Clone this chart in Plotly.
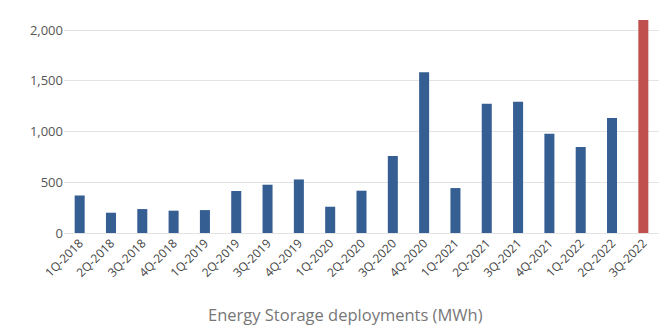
import plotly.graph_objects as go

quarters = ["1Q-2018", "2Q-2018", "3Q-2018", "4Q-2018", "1Q-2019", "2Q-2019", "3Q-2019",
            "4Q-2019", "1Q-2020", "2Q-2020", "3Q-2020", "4Q-2020", "1Q-2021", "2Q-2021",
            "3Q-2021", "4Q-2021", "1Q-2022", "2Q-2022", "3Q-2022"]
mwh = [370, 200, 236, 220, 226, 414, 476, 528, 259, 417, 759, 1586, 443, 1274, 1294, 978, 847, 1133, 2101]
y_ticks = [0, 500, 1000, 1500, 2000]
y_tick_text = ["0", "500", "1,000", "1,500", "2,000"]
title_text = "Energy Storage deployments (MWh)"

blue = "#355E93"
red = "#C0504D"
colors = [blue] * (len(quarters) - 1) + [red]

fig = go.Figure(go.Bar(x=quarters, y=mwh, marker=dict(color=colors, line=dict(width=0)), width=0.32))

font = "'Open Sans', sans-serif"
L, R, T, B = 64, 10, 20, 94
W, H = 669, 327
fig.update_layout(
    width=W, height=H,
    margin=dict(l=L, r=R, t=T, b=B),
    plot_bgcolor="white", paper_bgcolor="white",
    showlegend=False,
    font=dict(family=font, color="#555555"),
    xaxis=dict(tickangle=-45, tickfont=dict(size=12, color="#444444"), showgrid=False,
               showline=False, ticks="", range=[-0.5, len(quarters) - 0.5]),
    yaxis=dict(range=[0, 2100], tickvals=y_ticks, ticktext=y_tick_text,
               tickfont=dict(size=13, color="#555555"), gridcolor="#e3e3e3", gridwidth=1,
               zeroline=True, zerolinecolor="#e3e3e3", zerolinewidth=1, ticks="", ticklen=0,
               showline=False),
    annotations=[dict(text=title_text,
                      x=(345 - L) / (W - L - R), y=(H - B - 314) / (H - T - B),
                      xref="paper", yref="paper", xanchor="center", yanchor="middle",
                      showarrow=False, font=dict(size=16.5, color="#777777", family=font))],
)

fig.write_html("out.html")
